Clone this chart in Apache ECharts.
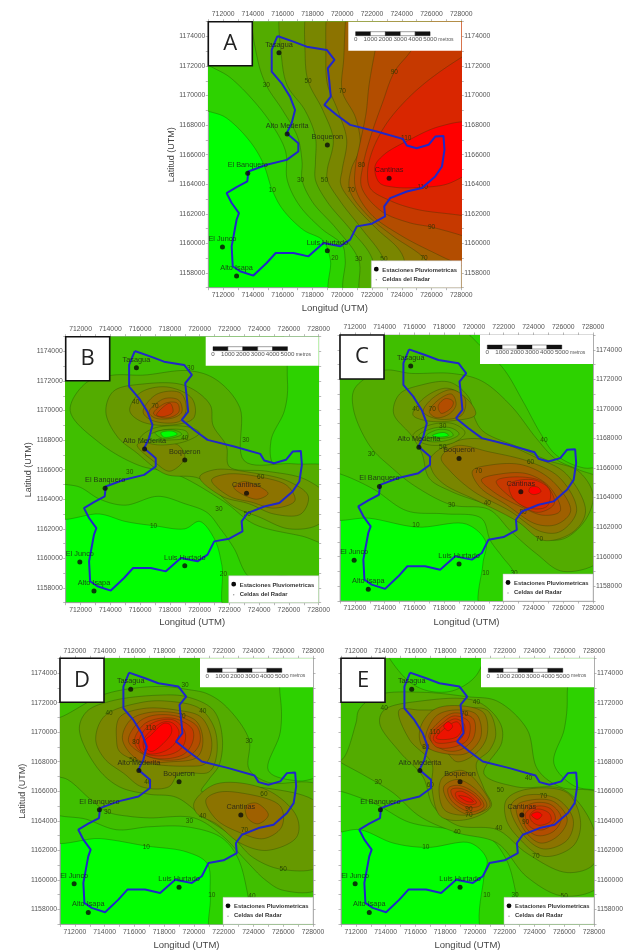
<!DOCTYPE html>
<html><head><meta charset="utf-8">
<style>html,body{margin:0;padding:0;background:#fff;overflow:hidden}#c{width:630px;height:950px;filter:blur(0.6px)}</style>
<script src="https://cdn.jsdelivr.net/npm/echarts@6/dist/echarts.min.js"></script>
</head><body><div id="c"></div>
<script>
// Coordinates below are km offsets: x = 700 + value, y = 1100 + value (thousands of metres, UTM)
const xTicks = [11, 28];
const yTicks = [57, 75];
const basin = [[15.64,74.03],[16.72,73.65],[17.61,73.31],[18.96,73.09],[19.48,72.41],[19.03,71.85],[19.12,71.06],[19.23,69.93],[18.8,69.37],[19.63,68.69],[20.53,68.02],[22.32,67.57],[24.07,67.07],[24.34,66.62],[25,66.44],[25.8,66.67],[26.25,67.23],[26.8,67.27],[26.87,66.33],[26.7,65.2],[26.25,64.53],[25.35,63.74],[24.34,63.51],[23.22,63.06],[22.82,62.5],[22.88,61.82],[21.99,61.33],[20.98,61.15],[20.53,60.25],[19.86,59.8],[18.74,60.02],[17.73,59.12],[16.72,59.35],[15.53,59.35],[14.92,58.67],[14.03,57.82],[13.13,58.11],[12.64,58.45],[12.57,59.8],[12.9,61.6],[13.06,62.05],[12.57,62.73],[12.23,63.4],[12.9,63.81],[13.62,64.19],[13.69,64.86],[14.92,65.32],[16.27,65.65],[17.05,66.22],[17.05,66.78],[16.27,67.45],[16.6,68.13],[16.83,69.03],[16.49,69.93],[15.93,70.83],[15.26,71.62],[15.26,73.09],[15.64,74.03]];
const stations = [["Tasagua",15.75,72.9],["Alto Mederita",16.3,67.4],["Boqueron",19,66.65],["Cantinas",23.15,64.4],["El Banquero",13.65,64.75],["El Junco",11.95,59.75],["Alto Isapa",12.9,57.8],["Luis Hurtado",19,59.5]];

const contoursA = [
[10,[[10,69.6],[12.2,68.5],[13.8,66.9],[14.7,65.4],[15.3,63.6],[16,62.3],[17.4,60.9],[18.7,60.2],[19.2,58.9],[19.3,56],[32,50],[32,80],[10,80]]],
[20,[[10,73],[12.5,71.2],[14,69.7],[15.3,68],[16.2,66.2],[16.3,64.3],[17.1,62.6],[18.6,61],[20,59.9],[20.2,58.9],[20.3,56],[32,50],[32,80],[10,80]]],
[30,[[14,76],[14.3,72.5],[14.9,70.7],[16,69],[17,67.2],[17.3,65.5],[17.3,64.3],[18,62.8],[19.6,61],[21.1,58.9],[21.4,56],[32,50],[32,80],[16,80]]],
[40,[[15.8,76],[15.9,72.8],[16.3,70.7],[17.5,69],[18.2,67.2],[18.2,65.5],[18.2,64.3],[19,62.8],[20.5,61],[22,59],[22.4,56],[32,50],[32,80],[17,80]]],
[50,[[17.6,76],[17.5,73],[17.7,71],[18.7,69],[19.4,67],[19,65],[19,64.3],[19.9,62.8],[21.3,61],[22.8,58.9],[23.4,56],[32,50],[32,80],[19,80]]],
[60,[[19,76],[18.9,73],[19,70.8],[19.7,69],[20.3,67],[20,65],[19.9,64],[20.8,62.6],[22.3,61],[24,59.3],[24.8,56],[32,50],[32,80],[20,80]]],
[70,[[20.3,76],[20.1,72.5],[20,70.3],[20.9,68.5],[21.2,66.5],[20.6,65],[20.5,63.6],[21.6,62],[23.4,60.5],[25.5,59],[26.8,57],[32,52],[32,80],[21,80]]],
[80,[[22.8,76],[22.2,73],[21.8,70.7],[21.6,68.8],[21.2,66.8],[20.9,65.3],[20.9,63.7],[21.9,62],[24,60.5],[26.5,59.2],[29,58],[34,55],[34,80],[24,80]]],
[90,[[26.5,76],[24.6,73],[23.5,71.6],[22.7,69.5],[21.9,67.2],[21.4,65.3],[21.3,63.8],[22.6,62.2],[24.5,61.4],[26,61.1],[29,60.2],[34,58],[34,80],[28,80]]],
[100,[[29,73.2],[26,71.2],[24.3,69.7],[22.9,68],[22,66.2],[21.7,64.8],[21.9,63.7],[23.2,62.9],[25,62.3],[29,61.7],[34,60],[34,76]]],
[120,[[29,68.2],[26.5,67.9],[24.5,67],[22.8,66],[22.2,65.2],[22.5,64.1],[23.5,63.8],[25.5,63.8],[27,64],[29,64.9],[34,66]]]
];
const contoursB = [
[10,[[10,62.9],[13.3,63],[15,62.5],[17,62.2],[19,62],[20,62.5],[21,61.3],[21.5,59.5],[21.9,56],[30,56],[30,76],[10,76]]],
[20,[[10,65.5],[12,64.8],[13.3,64],[15,63.6],[17.2,64.2],[19,63.7],[20.5,63.1],[21.4,62],[22.3,60.7],[23.4,58.7],[25.5,58.8],[29,58.8],[29,65.9],[27,66],[25,66.3],[24.8,68],[25.7,70],[25.9,72],[25,76],[10,76]]],
[30,[[11.3,70],[12.4,71.9],[14.2,72.4],[16.2,72.4],[19.3,72.7],[21.1,72.1],[22.7,70.2],[23,66.6],[26.3,66.4],[29,66],[29,61],[26.9,61.5],[23.7,62.3],[21.7,63.8],[18.4,65.7],[15.9,66.3],[13.3,67.8]]],
[40,[[13.7,69.9],[14.2,71.3],[16.2,71.8],[19,71.7],[20.7,70.4],[20.9,69],[21.8,67.6],[22,66.2],[24.5,65.9],[27.2,65.3],[29,63.7],[28,62.3],[26,62],[24,62.8],[22.3,63.5],[20,65.4],[17.7,65.7],[15.7,67.2],[14.5,68.2]]],
[50,[[15.3,70],[16,71.2],[17.8,71.6],[19.5,70.8],[19.6,69.5],[17.8,69],[16,69.3]]],
[50,[[15.8,67.7],[18.5,67.7],[19,66.8],[18,65.9],[17,66.5]]],
[50,[[20,65.5],[21,66],[23.5,65.8],[26,65.2],[27.3,64.2],[26.8,63],[25,63],[23.3,63.7],[21.5,64.2]]],
[60,[[20.8,65.3],[21.8,65.7],[24.1,65.5],[25.9,64.9],[26.4,63.9],[25,63.4],[23.5,63.8],[22,64.2]]],
[70,[[23,65.2],[24.6,64.4],[23.8,64],[22.3,64.8]]],
[60,[[16.2,69.9],[17.1,71.1],[18.7,71.2],[19.1,70.2],[18.7,69.3],[16.9,69.3]]],
[70,[[16.6,69.9],[17.6,70.8],[18.6,70.7],[18.8,69.9],[18.2,69.5],[17,69.5]]],
[80,[[16.9,69.8],[17.7,70.5],[18.5,70.5],[18.6,69.9],[17.8,69.5]]],
[90,[[17.1,69.7],[18,70.5],[18.2,69.9],[17.6,69.6]]],
[40,[[16,68.1],[16.9,68.8],[19.2,68.9],[20,68.5],[19,67.9],[17,67.7]]],
[30,[[16.6,68.3],[17.6,68.7],[19.1,68.6],[19.2,68.2],[17.8,68],[16.7,68]]],
[20,[[17,68.5],[18.2,68.7],[18.8,68.4],[17.6,68.1]]],
[0,[[17.4,68.5],[18.2,68.6],[18.5,68.4],[17.6,68.2]]]
];
const contoursC = [
[10,[[10,62.8],[13,62.6],[16.2,62],[19.5,62.2],[20.8,61],[20.6,59.5],[20.6,56],[30,56],[30,76],[10,76]]],
[20,[[10,65.8],[11,65.6],[13.2,64.6],[15.5,63.1],[18,62.9],[20.5,62.6],[21.1,61.1],[21.9,60],[22.7,58.9],[23.3,56],[30,56],[30,66.1],[27.4,66],[25.5,66.9],[24.5,68.3],[23.3,70.5],[22,72.7],[20.5,74.2],[19,75.5],[16,76],[10,76]]],
[30,[[11.9,70],[12,71.4],[13.9,72.6],[15.8,72.4],[18.5,72.4],[20.5,71.9],[22.5,70.2],[24.2,68],[25.5,66.6],[27,65.9],[28.8,65],[28.8,60],[26,59],[24.2,60.2],[22.5,61.7],[21,63.2],[18.5,63.5],[16,64.8],[14.5,66],[13,67.5]]],
[40,[[14.6,69.7],[15,71],[16.4,71.6],[18.4,71.8],[19.7,70.7],[20,69.5],[20.6,68.5],[23,67.4],[25,66.5],[27,65.8],[28,64.2],[27.5,62.5],[26,61.2],[24.5,61.3],[22.7,62.6],[20.9,63.5],[18.5,64.4],[17,65.3],[16.5,67],[15.8,68.2]]],
[50,[[15.9,69.6],[16.6,70.7],[18.2,71.4],[19.7,70.5],[20.1,69.6],[18.6,69.2],[16.8,69.2]]],
[50,[[17.1,66.7],[19.1,67.9],[21.5,67.8],[24.2,66.7],[26.2,65.6],[27.5,63.1],[26.7,61.7],[24.7,61.1],[22.9,62.4],[20.2,63.8],[18,64.9],[17.2,65.8]]],
[60,[[17.8,66.7],[18.8,67.5],[21,67.1],[23.8,66.4],[25.8,65.3],[26.9,63.1],[25.8,61.7],[24.5,61.7],[22.4,63.1],[20,64.4],[18.4,65.8]]],
[70,[[19.9,65.8],[21.1,66.2],[23.3,66.2],[25.3,65.1],[26.5,63.1],[25.6,62.2],[24.2,62.2],[22.2,63.5],[20.4,64.7]]],
[80,[[20.5,65.2],[21.8,65.6],[23.6,65.6],[25.1,64.7],[25.8,63.1],[24.7,62.8],[22.9,63.5],[21.3,64.4]]],
[90,[[21.5,65.1],[22.9,65.4],[24.7,65],[25.4,63.6],[24.3,63],[22.9,63.7]]],
[100,[[22.4,64.9],[24,65.2],[25.1,64.5],[24.9,63.4],[23.6,63.3],[22.6,64]]],
[120,[[23.8,64.7],[24.3,64.7],[24.5,64.4],[24,64.2],[23.7,64.4]]],
[60,[[16.6,69.8],[17.2,70.7],[18.5,71.3],[19.4,70.7],[19.2,69.6],[17.7,69.3]]],
[70,[[17,69.8],[17.6,70.6],[18.5,71],[18.8,70.3],[18.4,69.7],[17.5,69.4]]],
[80,[[17.6,70.2],[18.1,70.7],[18.6,70.5],[18.5,70.1],[17.8,69.7]]],
[40,[[15.9,68.2],[17,68.9],[18.6,69],[19.4,68.4],[18.6,67.7],[16.8,67.6]]],
[30,[[16.3,68.2],[17.3,68.7],[18.5,68.7],[19,68.3],[18.3,67.9],[17,67.8]]],
[20,[[16.8,68.2],[17.6,68.6],[18.4,68.5],[18.6,68.2],[17.6,68]]],
[0,[[17.2,68.2],[18,68.4],[18.3,68.2],[17.6,68.1]]]
];
const contoursD = [
[10,[[10,62.8],[13.7,62.8],[16.8,62.3],[19.5,61.9],[20.9,61.1],[21.1,58.9],[21.3,56],[30,56],[30,76],[10,76]]],
[20,[[10,64.9],[12.8,64.1],[14.8,63.4],[17,63.6],[19.5,63.6],[21.8,62.9],[22.9,61.6],[23.6,59.1],[24,56],[30,56],[30,67],[27,66.7],[25,67.4],[25.8,70],[25.8,72.4],[24.9,76],[10,76]]],
[30,[[10,70.8],[11,71],[14.1,72.6],[17.7,73.1],[19.5,72.9],[20.9,72.6],[22.2,71.7],[23.7,69.5],[23.7,67.5],[25,66.6],[28.5,66.3],[28.5,59.5],[26,59.3],[24.8,60],[23.5,61.3],[21.9,63],[20,64.2],[17,64.2],[15.7,64.3],[14.2,64.6],[13,65.5],[11.5,66.8],[10,67.3]]],
[40,[[12.3,70.2],[12.8,71.4],[14.4,72.1],[17.5,72.5],[19.5,72.4],[21.3,71.5],[21.9,69.7],[21.7,67.8],[21,66.8],[20.5,66],[22,66.2],[25,66.2],[28.5,65],[28.5,61],[26,60.7],[24,61.5],[22.5,63],[20.6,64.3],[18.8,65.6],[17,65.8],[15,66.3],[13.5,67.6]]],
[50,[[13.4,69.5],[14,71.1],[16.4,72],[18.2,72.1],[20.4,71.6],[21.4,70.2],[21.5,68.3],[21,67.3],[19,67.2],[18.3,66.3],[16.5,66.3],[15.3,67.2],[14,68.2]]],
[50,[[20,65.2],[21.5,66.5],[24.9,66.1],[26.9,64.3],[26.9,62.9],[24.9,62],[23.1,62.5],[21.5,63.8],[20.2,64.5]]],
[60,[[20.8,65.4],[21.5,65.9],[23.1,65.9],[25.8,65],[25.9,63.6],[24.7,62.8],[23.1,63.2],[21.5,64.1]]],
[70,[[23.5,65],[24.2,65.2],[25,64.4],[24.3,63.8],[23.6,64.2]]],
[60,[[14.8,69.5],[15,71],[16.6,71.6],[18.8,71.5],[20.5,71],[21.2,69.3],[20.8,67.9],[19.5,67.7],[16.4,68],[15,68.7]]],
[70,[[15.2,69.5],[15.7,70.8],[16.8,71.3],[18.8,71.3],[20.2,70.7],[20.6,69.3],[20.2,68.3],[18.5,68],[16.3,68.1]]],
[80,[[15.6,69.4],[16.2,70.6],[17.1,71.1],[18.8,71.1],[20.2,70.4],[20.4,69.3],[19.7,68.4],[18.2,68.1],[16.6,68.5]]],
[90,[[16,69.4],[16.6,70.5],[17.5,70.9],[18.8,70.9],[19.9,70.2],[19.9,69.3],[19.3,68.5],[17.7,68.2],[16.5,68.6]]],
[100,[[16.3,69.4],[16.9,70.4],[17.7,70.8],[18.7,70.8],[19.4,70],[19.3,69.1],[18.7,68.6],[17.5,68.4],[16.5,68.7]]],
[110,[[16.6,69.4],[17.2,70.2],[18,70.7],[18.6,70.6],[19,70],[18.6,69.1],[17.7,68.6],[16.8,68.6]]],
[120,[[16.7,69.4],[17.1,69.8],[18,70.6],[18.4,70.5],[18.5,70],[18,69.3],[17.2,68.7],[16.9,68.8]]]
];
const contoursE = [
[10,[[10,63.4],[12.3,63.4],[14.5,62.5],[16.8,62.2],[19.7,62.5],[20.8,61.4],[20.6,60.2],[20.7,56],[30,56],[30,76],[10,76]]],
[20,[[10,66.2],[11,66],[13.4,65.1],[15.6,63.9],[18.8,63.4],[20.8,63],[22.1,61.4],[22.8,58.9],[23.3,56],[30,56],[30,66],[28,66.1],[26.6,66.4],[25.3,67.9],[26,70.2],[26.2,72.4],[25.7,76],[10,76]]],
[10,[[14,76],[15,74],[16.5,72.9],[18.5,72.8],[20.2,74],[20.5,76]]],
[30,[[10,68.5],[11,68.1],[12,70.6],[12.2,71.5],[13.4,72.5],[16.5,72.7],[19.5,72.4],[21.5,72.1],[23.5,70.2],[24.2,67.5],[25.7,66.3],[28.6,65.7],[28.6,59.8],[26,58.9],[23.5,60.2],[21.5,62.5],[18.8,63.2],[16.3,64.3],[14.5,65.9],[12.7,67]]],
[40,[[13.6,70.6],[13.9,71.5],[16.3,72.1],[20.1,72.1],[21.7,70.6],[21.8,69.3],[20.6,67.2],[22.8,66.3],[26,66.1],[28,63.4],[28,61.1],[26.2,60.5],[23.5,61.8],[21.5,63.4],[18.8,63.7],[17.2,65],[16.5,67],[15,68.6]]],
[50,[[14.9,71.5],[16.3,71.5],[18.3,71.5],[20.8,71.5],[21.4,69.9],[21,68.8],[20.1,67.9],[20.6,66.2],[21.1,65],[19.5,64.1],[17.7,64.3],[17.1,66.3],[17.1,67.9],[15.6,69.5]]],
[50,[[22.1,65.4],[23.3,66.1],[26.2,65.9],[27.1,63.9],[26.6,62.3],[24.6,61.6],[22.8,63],[22.1,64.1]]],
[60,[[16.3,70.2],[17.2,71.5],[18.8,71.8],[20.6,71.3],[20.8,69.7],[20.1,68.6],[18.8,68],[17.9,68.8],[16.5,69]]],
[60,[[17.8,66.9],[19.2,67.4],[20.6,66],[21,65],[19.6,64.4],[18,64.7],[17.6,65.8]]],
[70,[[16.7,69.8],[17.4,71.1],[18.6,71.5],[20.1,71.2],[20.4,69.7],[19.5,68.6],[18.3,68.5],[16.8,69]]],
[80,[[16.9,69.7],[17.7,70.8],[18.6,71.3],[19.9,70.9],[19.9,69.6],[19,68.8],[17.9,68.8]]],
[90,[[17,69.7],[17.8,70.6],[18.6,71.1],[19.6,70.7],[19.5,69.5],[18.6,69],[17.4,69]]],
[100,[[17.2,69.6],[17.9,70.5],[18.7,70.9],[19.3,70.5],[19.1,69.6],[18.3,69.3],[17.4,69.3]]],
[110,[[17.4,69.6],[17.9,70.2],[18.8,70.7],[19.1,70.2],[18.8,69.7],[17.9,69.5]]],
[120,[[17.9,70.4],[18.2,70.7],[18.5,70.4],[18.2,70.1]]],
[70,[[17.9,66.3],[18.8,66.8],[20.1,66.1],[20.8,65],[19.7,64.4],[18.3,65.2]]],
[80,[[18.2,66.2],[18.9,66.4],[20.1,65.8],[20.6,65],[19.7,64.6],[18.4,65.4]]],
[90,[[18.4,66.1],[19,66.2],[20,65.7],[20.4,65.1],[19.6,64.9],[18.6,65.5]]],
[100,[[18.7,65.9],[19.1,66],[19.9,65.5],[20.1,65.2],[19.5,65.1],[18.8,65.5]]],
[110,[[18.9,65.7],[19.5,65.6],[19.9,65.3],[19.5,65.3]]],
[60,[[22.4,65],[23.3,65.7],[25.5,65.5],[26.6,64.1],[26.2,62.7],[24.6,62.1],[23.3,63]]],
[70,[[22.8,65],[23.7,65.4],[25.3,65.3],[26.2,64.1],[25.6,63],[24.4,62.5],[23.3,63.4]]],
[80,[[23.3,64.8],[23.9,65.2],[25.1,65.1],[25.8,64.2],[25.3,63.3],[24.2,63],[23.4,63.6]]],
[90,[[23.4,64.5],[24.2,65],[25.1,64.8],[25.4,64.1],[24.6,63.4],[23.7,63.6]]],
[100,[[23.7,64.4],[24.2,64.8],[25,64.5],[25.1,64],[24.3,63.7],[23.8,64]]],
[120,[[23.8,64.4],[24.2,64.6],[24.5,64.4],[24.2,64.1]]]
];
const labelsA = [[14.9,70.7,"30"],[17.7,71,"50"],[20,70.3,"70"],[23.5,71.6,"90"],[24.3,67.1,"110"],[25.4,63.8,"110"],[21.3,65.3,"80"],[20.6,63.6,"70"],[18.8,64.3,"50"],[17.2,64.3,"30"],[15.3,63.6,"10"],[26,61.1,"90"],[19.5,59,"20"],[21.1,58.9,"30"],[22.8,58.9,"50"],[25.5,59,"70"]];
const labelsB = [[19.4,72.9,"30"],[15.7,70.6,"40"],[17,70.3,"70"],[19,68.1,"40"],[23.1,68,"30"],[15.3,65.8,"30"],[24.1,65.5,"60"],[21.3,63.3,"30"],[23.2,63,"50"],[16.9,62.2,"10"],[21.6,58.9,"20"]];
const labelsC = [[13.1,66.9,"30"],[16.1,70,"40"],[17.2,70,"70"],[17.9,68.8,"30"],[17.9,67.4,"50"],[18.5,63.5,"30"],[20.9,63.6,"40"],[20.3,65.8,"70"],[23.8,66.4,"60"],[24.7,67.9,"40"],[23.3,63,"80"],[24.4,61.2,"70"],[16.1,62.1,"10"],[20.8,58.9,"10"],[22.7,58.9,"30"]];
const labelsD = [[14.3,71.3,"40"],[19.4,73.2,"30"],[20.6,71.4,"40"],[19.2,71.1,"70"],[17.1,70.3,"110"],[16.1,69.3,"80"],[15.9,68.1,"50"],[16.9,66.6,"40"],[14.2,64.6,"30"],[19.7,64,"30"],[20.6,64.3,"40"],[23.7,69.4,"30"],[24.7,65.8,"60"],[23.4,63.4,"70"],[26,60.7,"50"],[16.8,62.2,"10"],[21.2,59,"10"],[23.9,58.9,"40"]];
const labelsE = [[13.9,71.6,"40"],[20.1,72,"40"],[19.3,71.2,"70"],[17.3,70,"110"],[16.7,69,"80"],[13.5,66.6,"30"],[17,66.4,"60"],[19.6,64.8,"90"],[19.6,64.4,"70"],[23.6,66.9,"40"],[21.7,66.1,"50"],[24.6,65.7,"70"],[23.4,63.9,"90"],[18.8,63.2,"40"],[21.6,63.5,"40"],[16.7,62.2,"10"],[24.1,61.6,"70"],[20.8,59,"10"],[22.7,59,"30"],[26,58.9,"50"]];

const panels = [
 {n:'A',l:208.3,t:21.7,c:contoursA,lb:labelsA,leftL:true,rightL:true,ylab:172,xlabY:308},
 {n:'B',l:65.7,t:336.7,c:contoursB,lb:labelsB,leftL:true,rightL:false,ylab:29,xlabY:622},
 {n:'C',l:340,t:335,c:contoursC,lb:labelsC,leftL:false,rightL:true,xlabY:622},
 {n:'D',l:60,t:658.3,c:contoursD,lb:labelsD,leftL:true,rightL:false,ylab:23,xlabY:945},
 {n:'E',l:341,t:658.3,c:contoursE,lb:labelsE,leftL:false,rightL:true,xlabY:945}
];
const W=253,H=266, FONT='"Liberation Sans",Arial,sans-serif';
const ux=v=>700000+v*1000, uy=v=>1100000+v*1000;
function levelColor(L){
  const t=L<=0?0:Math.min(1,L*0.0075+0.1);
  return 'rgb('+Math.round(255*t)+','+Math.round(255*(1-t))+',0)';
}
// centripetal Catmull-Rom outline through pixel points of a closed contour (drawing only)
function roundOutline(P){
  const n=P.length,out=[];
  const d=(a,b)=>Math.pow(Math.hypot(a[0]-b[0],a[1]-b[1]),0.5)||1e-4;
  for(let i=0;i<n;i++){
    const p0=P[(i-1+n)%n],p1=P[i],p2=P[(i+1)%n],p3=P[(i+2)%n];
    const t1=d(p0,p1),t2=t1+d(p1,p2),t3=t2+d(p2,p3);
    for(let s=0;s<10;s++){
      const t=t1+(t2-t1)*s/10;
      const L=(a,b,ta,tb)=>[a[0]+(b[0]-a[0])*(t-ta)/(tb-ta),a[1]+(b[1]-a[1])*(t-ta)/(tb-ta)];
      const A1=L(p0,p1,0,t1),A2=L(p1,p2,t1,t2),A3=L(p2,p3,t2,t3);
      const B1=L(A1,A2,0,t2),B2=L(A2,A3,t1,t3);
      out.push(L(B1,B2,t1,t2));
    }
  }
  return out;
}
const axisStyle={lineStyle:{color:'#999',width:0.7}};
const grid=[],xAxis=[],yAxis=[],series=[],graphic=[];
panels.forEach((p,i)=>{
  grid.push({left:p.l,top:p.t,width:W,height:H,show:true,backgroundColor:'#00ff00',borderColor:'#999',borderWidth:0.7});
  ['bottom','top'].forEach(pos=>xAxis.push({type:'value',gridIndex:i,position:pos,min:ux(xTicks[0]),max:ux(xTicks[1]),interval:1000,scale:true,
    axisLine:{show:true,onZero:false,...axisStyle},axisTick:{show:true,length:2.5,...axisStyle},splitLine:{show:false},
    axisLabel:{show:true,hideOverlap:false,fontFamily:FONT,fontSize:6.8,color:'#555',margin:4,formatter:v=>(v/1000)%2===0?String(v):''}}));
  [['left',p.leftL],['right',p.rightL]].forEach(([pos,show])=>yAxis.push({type:'value',gridIndex:i,position:pos,min:uy(yTicks[0]),max:uy(yTicks[1]),interval:1000,scale:true,
    axisLine:{show:true,onZero:false,...axisStyle},axisTick:{show:true,length:2.5,...axisStyle},splitLine:{show:false},
    axisLabel:{show:show,hideOverlap:false,fontFamily:FONT,fontSize:6.8,color:'#555',margin:3,formatter:v=>(v/1000)%2===0?String(v):''}}));
  const xi=i*2,yi=i*2;
  series.push({type:'custom',coordinateSystem:'cartesian2d',xAxisIndex:xi,yAxisIndex:yi,clip:true,silent:true,z:1,animation:false,
    data:p.c.map((c,k)=>[ux(c[1][0][0]),uy(c[1][0][1]),k]),
    encode:{x:0,y:1},
    renderItem:(params,api)=>{
      const c=p.c[params.dataIndex];
      return {type:'polygon',shape:{points:roundOutline(c[1].map(q=>api.coord([ux(q[0]),uy(q[1])])))},
        style:{fill:levelColor(c[0]),stroke:'rgba(25,55,0,0.5)',lineWidth:0.6}};
    }});
  series.push({type:'scatter',xAxisIndex:xi,yAxisIndex:yi,z:2,symbolSize:0,silent:true,animation:false,
    data:p.lb.map(q=>({value:[ux(q[0]),uy(q[1])],label:{formatter:q[2]}})),
    label:{show:true,position:'inside',fontFamily:FONT,fontSize:6.5,color:'#1c3300'}});
  series.push({type:'line',xAxisIndex:xi,yAxisIndex:yi,z:3,showSymbol:false,silent:true,animation:false,
    data:basin.map(q=>[ux(q[0]),uy(q[1])]),lineStyle:{color:'#2028c8',width:2}});
  series.push({type:'scatter',xAxisIndex:xi,yAxisIndex:yi,z:4,symbolSize:5,silent:true,animation:false,
    itemStyle:{color:'#0a0a0a'},
    data:stations.map(s=>({value:[ux(s[1]),uy(s[2])],label:{formatter:s[0]}})),
    label:{show:true,position:'top',distance:2,fontFamily:FONT,fontSize:7.3,color:'#1a1a1a'}});
  graphic.push({type:'rect',z:100,shape:{x:p.l,y:p.t,width:44,height:44},style:{fill:'#fff',stroke:'#111',lineWidth:1.6}});
  graphic.push({type:'text',z:101,x:p.l+22,y:p.t+22,style:{text:p.n,fontFamily:'"Open Sans",sans-serif',fontSize:22,fill:'#222',align:'center',verticalAlign:'middle'}});
  const sx=p.l+W-113,sy=p.t;
  graphic.push({type:'rect',z:100,shape:{x:sx,y:sy,width:113,height:29},style:{fill:'#fff'}});
  for(let k=0;k<5;k++) graphic.push({type:'rect',z:101,shape:{x:sx+7.3+k*14.9,y:sy+10,width:14.9,height:4},style:{fill:k%2?'#fff':'#111',stroke:'#111',lineWidth:0.4}});
  ['0','1000','2000','3000','4000','5000'].forEach((s,k)=>graphic.push({type:'text',z:101,x:sx+7.3+k*14.9,y:sy+17.5,style:{text:s,fontFamily:FONT,fontSize:6.2,fill:'#555',align:'center',verticalAlign:'middle'}}));
  graphic.push({type:'text',z:101,x:sx+90,y:sy+17.5,style:{text:'metros',fontFamily:FONT,fontSize:5,fill:'#555',align:'left',verticalAlign:'middle'}});
  const gx=p.l+W-90,gy=p.t+H-27;
  graphic.push({type:'rect',z:100,shape:{x:gx,y:gy,width:90,height:27},style:{fill:'#fff',stroke:'#bbb',lineWidth:0.5}});
  graphic.push({type:'circle',z:101,shape:{cx:gx+5,cy:gy+8.5,r:2.4},style:{fill:'#0a0a0a'}});
  graphic.push({type:'circle',z:101,shape:{cx:gx+5,cy:gy+19,r:0.7},style:{fill:'#999'}});
  graphic.push({type:'text',z:101,x:gx+11,y:gy+9.5,style:{text:'Estaciones Pluviometricas',fontFamily:FONT,fontWeight:'bold',fontSize:5.9,fill:'#333',align:'left',verticalAlign:'middle'}});
  graphic.push({type:'text',z:101,x:gx+11,y:gy+18.5,style:{text:'Celdas del Radar',fontFamily:FONT,fontWeight:'bold',fontSize:5.9,fill:'#333',align:'left',verticalAlign:'middle'}});
  graphic.push({type:'text',z:101,x:p.l+W/2,y:p.xlabY,style:{text:'Longitud (UTM)',fontFamily:FONT,fontSize:9.5,fill:'#444',align:'center',verticalAlign:'middle'}});
  if(p.ylab) graphic.push({type:'text',z:101,x:p.ylab,y:p.t+H/2,rotation:Math.PI/2,style:{text:'Latitud (UTM)',fontFamily:FONT,fontSize:9,fill:'#444',align:'center',verticalAlign:'middle'}});
});
const chart=echarts.init(document.getElementById('c'),null,{renderer:'canvas',width:630,height:950});
chart.setOption({animation:false,backgroundColor:'#fff',grid,xAxis,yAxis,series,graphic:{elements:graphic}});
</script></body></html>
